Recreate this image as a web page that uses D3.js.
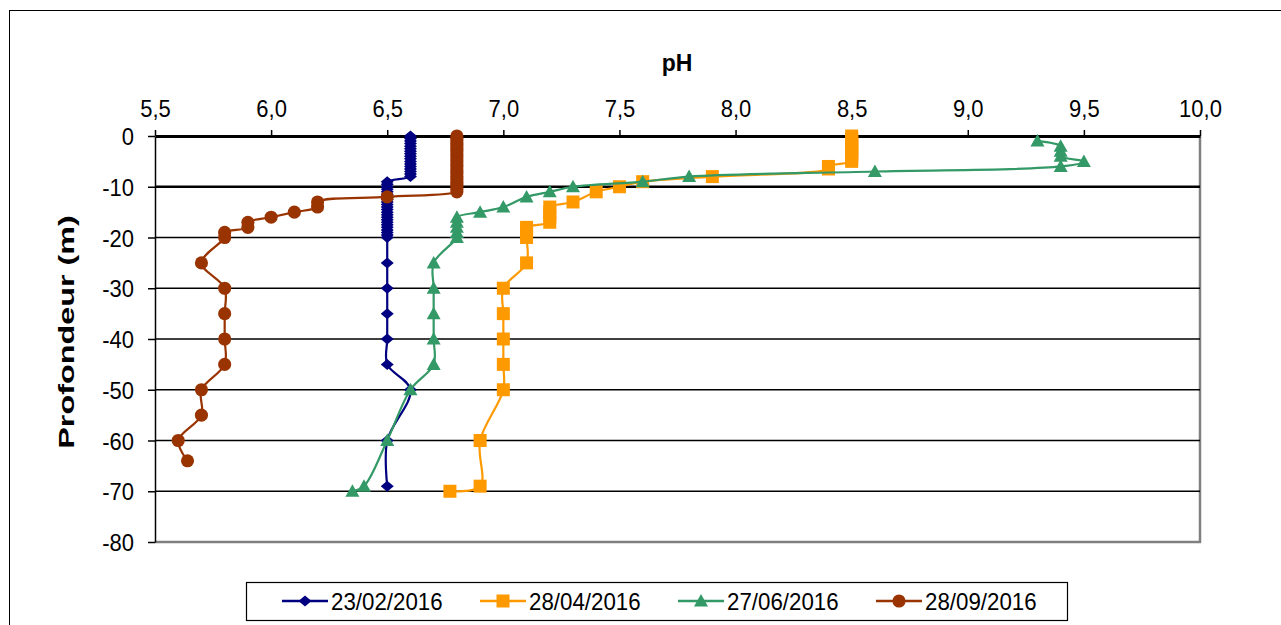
<!DOCTYPE html>
<html>
<head>
<meta charset="utf-8">
<script src="https://cdn.jsdelivr.net/npm/d3@7"></script>
<style>
  html, body { margin: 0; padding: 0; background: #fff; }
  svg { display: block; font-family: "Liberation Sans", Arial, sans-serif; }
</style>
</head>
<body>
<svg id="chart" width="1281" height="625"></svg>
<script>
// pH depth profiles, four sampling campaigns (depth in m, negative downward)
const seriesNames = ["23/02/2016", "28/04/2016", "27/06/2016", "28/09/2016"];
const seriesColors = ["#000080", "#FF9900", "#339966", "#993300"];
const seriesMarkers = ["diamond", "square", "triangle", "circle"];

const febDepth = [0, -0.5, -1, -1.5, -2, -2.5, -3, -3.5, -4, -4.5, -5, -5.5, -6, -6.5, -7, -7.5, -8,
  -9, -9.5, -10, -10.5, -11, -11.5, -12, -12.5, -13, -13.5, -14, -14.5, -15, -15.5, -16, -16.5, -17, -17.5, -18, -18.5, -19, -19.5, -20,
  -25, -30, -35, -40, -45, -50, -60, -69];
const febPH = [6.6, 6.6, 6.6, 6.6, 6.6, 6.6, 6.6, 6.6, 6.6, 6.6, 6.6, 6.6, 6.6, 6.6, 6.6, 6.6, 6.6,
  6.5, 6.5, 6.5, 6.5, 6.5, 6.5, 6.5, 6.5, 6.5, 6.5, 6.5, 6.5, 6.5, 6.5, 6.5, 6.5, 6.5, 6.5, 6.5, 6.5, 6.5, 6.5, 6.5,
  6.5, 6.5, 6.5, 6.5, 6.5, 6.6, 6.5, 6.5];

const aprDepth = [0, -0.5, -1, -1.5, -2, -2.5, -3, -3.5, -4, -4.5, -5, -6, -6.5, -8, -9, -10, -11, -13,
  -14, -15, -16, -17, -18, -19, -20, -25, -30, -35, -40, -45, -50, -60, -69, -70];
const aprPH = [8.5, 8.5, 8.5, 8.5, 8.5, 8.5, 8.5, 8.5, 8.5, 8.5, 8.5, 8.4, 8.4, 7.9, 7.6, 7.5, 7.4, 7.3,
  7.2, 7.2, 7.2, 7.2, 7.1, 7.1, 7.1, 7.1, 7.0, 7.0, 7.0, 7.0, 7.0, 6.9, 6.9, 6.77];

const junDepth = [-1, -2, -3, -4, -5, -6, -7, -8, -9, -10, -11, -12, -14, -15,
  -16, -17, -18, -19, -20, -25, -30, -35, -40, -45, -50, -60, -69, -70];
const junPH = [9.3, 9.4, 9.4, 9.4, 9.5, 9.4, 8.6, 7.8, 7.6, 7.3, 7.2, 7.1, 7.0, 6.9,
  6.8, 6.8, 6.8, 6.8, 6.8, 6.7, 6.7, 6.7, 6.7, 6.7, 6.6, 6.5, 6.4, 6.35];

const sepDepth = [0, -0.5, -1, -1.5, -2, -2.5, -3, -3.5, -4, -4.5, -5, -5.5, -6, -6.5, -7, -7.5, -8, -8.5, -9, -9.5, -10, -10.5, -11,
  -12, -13, -14, -15, -16, -17, -18, -19, -20, -25, -30, -35, -40, -45, -50, -55, -60, -64];
const sepPH = [6.8, 6.8, 6.8, 6.8, 6.8, 6.8, 6.8, 6.8, 6.8, 6.8, 6.8, 6.8, 6.8, 6.8, 6.8, 6.8, 6.8, 6.8, 6.8, 6.8, 6.8, 6.8, 6.8,
  6.5, 6.2, 6.2, 6.1, 6.0, 5.9, 5.9, 5.8, 5.8, 5.7, 5.8, 5.8, 5.8, 5.8, 5.7, 5.7, 5.6, 5.64];

const xTicks = [5.5, 6.0, 6.5, 7.0, 7.5, 8.0, 8.5, 9.0, 9.5, 10.0];
const yTicks = [0, -10, -20, -30, -40, -50, -60, -70, -80];

const depths = [febDepth, aprDepth, junDepth, sepDepth];
const phs = [febPH, aprPH, junPH, sepPH];
const series = seriesNames.map((name, i) => ({
  name, color: seriesColors[i], marker: seriesMarkers[i],
  points: depths[i].map((d, j) => ({ depth: d, ph: phs[i][j] }))
}));

const svg = d3.select("#chart");
const plot = { left: 155, right: 1200, top: 136, bottom: 542 };

const x = d3.scaleLinear().domain([5.5, 10.0]).range([plot.left, plot.right]);
const y = d3.scaleLinear().domain([0, -80]).range([plot.top, plot.bottom]);
const fmt = d => d3.format(".1f")(d).replace(".", ",");
const textStretch = 1.1;

// outer chart frame
svg.append("rect").attr("x", 9.5).attr("y", 10.5).attr("width", 1400).attr("height", 800)
  .attr("fill", "#fff").attr("stroke", "#000").attr("stroke-width", 1);

// plot area frame (right and bottom edges in grey)
svg.append("path")
  .attr("d", `M${plot.right},${plot.top}V${plot.bottom}H${plot.left}`)
  .attr("fill", "none").attr("stroke", "#808080").attr("stroke-width", 2.5);

// horizontal gridlines
svg.append("g").selectAll("line").data(yTicks.filter(t => t !== 0 && t !== -80)).join("line")
  .attr("x1", plot.left).attr("x2", plot.right)
  .attr("y1", d => y(d)).attr("y2", d => y(d))
  .attr("stroke", "#000").attr("stroke-width", d => d === -10 ? 2.6 : 1.4);

// top x axis
const xAxis = svg.append("g").attr("transform", `translate(0,${y(0)})`)
  .call(d3.axisTop(x).tickValues(xTicks).tickFormat(fmt).tickSize(6).tickSizeOuter(0));
xAxis.select(".domain").attr("stroke-width", 2.8);
xAxis.selectAll(".tick line").attr("stroke-width", 1.5);
xAxis.selectAll(".tick text").attr("font-size", 22).attr("fill", "#000")
  .attr("font-family", "Liberation Sans, Arial, sans-serif")
  .attr("y", 0).attr("dy", 0)
  .attr("transform", `translate(0,-19.5) scale(1,${textStretch})`);

// left y axis
const yAxis = svg.append("g").attr("transform", `translate(${plot.left},0)`)
  .call(d3.axisLeft(y).tickValues(yTicks).tickFormat(d => d3.format("d")(d).replace("−", "-")).tickSize(7).tickSizeOuter(0));
yAxis.select(".domain").attr("stroke-width", 1.5);
yAxis.selectAll(".tick line").attr("stroke-width", 1.5);
yAxis.selectAll(".tick text").attr("font-size", 22).attr("fill", "#000")
  .attr("font-family", "Liberation Sans, Arial, sans-serif")
  .attr("x", 0).attr("dy", "0.36em")
  .attr("transform", `translate(-21,0) scale(1,${textStretch})`);

// axis titles
svg.append("text").attr("transform", `translate(677,70.5) scale(1,1.05)`).attr("text-anchor", "middle")
  .attr("font-size", 23).attr("font-weight", "bold").text("pH");
svg.append("text").attr("transform", `translate(74,${(plot.top + plot.bottom) / 2 - 7}) rotate(-90) scale(1.47,1.02)`)
  .attr("text-anchor", "middle").attr("font-size", 22).attr("font-weight", "bold").text("Profondeur (m)");

// marker shapes
function markerPath(type) {
  if (type === "diamond") return "M0,-5.5L6.5,0L0,5.5L-6.5,0Z";
  if (type === "square") return "M-6.5,-6.5H6.5V6.5H-6.5Z";
  if (type === "triangle") return "M0,-7L7,5.5H-7Z";
  return d3.symbol(d3.symbolCircle, 135)();
}

const line = d3.line().x(d => x(d.ph)).y(d => y(d.depth)).curve(d3.curveCatmullRom.alpha(0.5));

const gSeries = svg.append("g");
series.forEach(s => {
  const g = gSeries.append("g");
  g.append("path").datum(s.points).attr("d", line)
    .attr("fill", "none").attr("stroke", s.color).attr("stroke-width", 2.2);
  g.selectAll("path.mk").data(s.points).join("path").attr("class", "mk")
    .attr("transform", d => `translate(${x(d.ph)},${y(d.depth)})`)
    .attr("d", markerPath(s.marker)).attr("fill", s.color);
});

// legend
const legend = svg.append("g");
legend.append("rect").attr("x", 246.5).attr("y", 582.5).attr("width", 821).attr("height", 38)
  .attr("fill", "#fff").attr("stroke", "#000").attr("stroke-width", 1.2);
const legendX = [282, 480, 678, 876];
series.forEach((s, i) => {
  const g = legend.append("g").attr("transform", `translate(${legendX[i]},601)`);
  g.append("line").attr("x1", 0).attr("x2", 46).attr("stroke", s.color).attr("stroke-width", 2.5);
  g.append("path").attr("transform", "translate(23,0)").attr("d", markerPath(s.marker)).attr("fill", s.color);
  g.append("text").attr("x", 0).attr("dy", "0.36em").attr("font-size", 22.3)
    .attr("transform", `translate(49,0) scale(1,${textStretch})`).text(s.name);
});
</script>
</body>
</html>
